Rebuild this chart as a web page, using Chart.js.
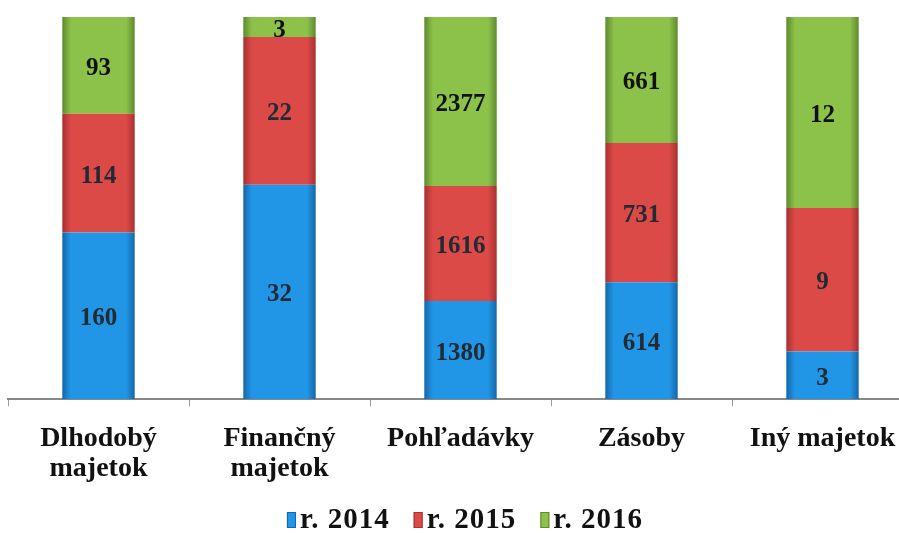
<!DOCTYPE html>
<html>
<head>
    <meta charset="utf-8">
    <style>
        body { margin: 0; overflow: hidden; background: #fff; }
        #chart { width: 925px; height: 533px; }
    </style>
    <script src="https://cdn.jsdelivr.net/npm/chart.js"></script>
</head>
<body>
    <div id="chart"><canvas id="c"></canvas></div>
    <script>
        // categories and values
        const categories = [['Dlhodobý', 'majetok'], ['Finančný', 'majetok'], 'Pohľadávky', 'Zásoby', 'Iný majetok'];
        const seriesNames = ['r. 2014', 'r. 2015', 'r. 2016'];
        const values2014 = [160, 32, 1380, 614, 3];
        const values2015 = [114, 22, 1616, 731, 9];
        const values2016 = [93, 3, 2377, 661, 12];

        const rawSeries = [values2014, values2015, values2016];
        const totals = categories.map((_, i) => rawSeries.reduce((s, arr) => s + arr[i], 0));

        // edge / middle colours for each series (bars look slightly rounded)
        const palette = [
            { edge: '#1467a8', mid: '#2196e6' },
            { edge: '#a8302f', mid: '#dc4a48' },
            { edge: '#5f8a2e', mid: '#8cc24a' }
        ];
        const serif = '"Liberation Serif", serif';

        function barFill(ctx, p) {
            const chart = ctx.chart;
            const xs = chart.scales.x;
            if (!xs || !chart.chartArea || ctx.dataIndex === undefined) return p.mid;
            const cx = xs.getPixelForValue(ctx.dataIndex);
            const half = (xs.width / categories.length) * 0.4 / 2;
            const g = chart.ctx.createLinearGradient(cx - half, 0, cx + half, 0);
            g.addColorStop(0, p.edge);
            g.addColorStop(0.12, p.mid);
            g.addColorStop(0.88, p.mid);
            g.addColorStop(1, p.edge);
            return g;
        }

        // draw the raw values in the middle of each segment
        const valueLabels = {
            id: 'valueLabels',
            afterDatasetsDraw(chart) {
                const ctx = chart.ctx;
                ctx.save();
                ctx.font = 'bold 25px ' + serif;
                ctx.textAlign = 'center';
                ctx.textBaseline = 'middle';
                chart.data.datasets.forEach((ds, di) => {
                    const meta = chart.getDatasetMeta(di);
                    meta.data.forEach((bar, i) => {
                        ctx.fillStyle = di === 2 ? '#111' : '#222a33';
                        ctx.fillText(String(rawSeries[di][i]), bar.x, (bar.y + bar.base) / 2 + 3);
                    });
                });
                ctx.restore();
            }
        };

        // legend drawn by hand: small tall boxes close to the text
        const bottomLegend = {
            id: 'bottomLegend',
            afterDraw(chart) {
                const ctx = chart.ctx;
                ctx.save();
                ctx.font = 'bold 29px ' + serif;
                ctx.letterSpacing = '1px';
                ctx.textBaseline = 'middle';
                const boxW = 9, boxH = 16, gap = 4, itemGap = 24;
                const widths = seriesNames.map(n => boxW + gap + ctx.measureText(n).width);
                const total = widths.reduce((a, b) => a + b, 0) + itemGap * (widths.length - 1);
                let x = 465 - total / 2;
                const y = 520;
                seriesNames.forEach((n, i) => {
                    ctx.fillStyle = palette[i].mid;
                    ctx.fillRect(x, y - boxH / 2, boxW, boxH);
                    ctx.strokeStyle = palette[i].edge;
                    ctx.lineWidth = 1;
                    ctx.strokeRect(x + 0.5, y - boxH / 2 + 0.5, boxW - 1, boxH - 1);
                    ctx.fillStyle = '#111';
                    ctx.fillText(n, x + boxW + gap, y + 1);
                    x += widths[i] + itemGap;
                });
                ctx.restore();
            }
        };

        const datasets = rawSeries.map((arr, di) => ({
            label: seriesNames[di],
            data: arr.map((v, i) => v / totals[i] * 100),
            backgroundColor: ctx => barFill(ctx, palette[di]),
            borderWidth: 0,
            barPercentage: 0.4,
            categoryPercentage: 1.0
        }));

        new Chart(document.getElementById('c'), {
            type: 'bar',
            data: { labels: categories, datasets: datasets },
            plugins: [valueLabels, bottomLegend],
            options: {
                responsive: true,
                maintainAspectRatio: false,
                animation: false,
                layout: { padding: { left: 8, right: 12, top: 17, bottom: 32 } },
                scales: {
                    x: {
                        stacked: true,
                        grid: { drawOnChartArea: false, drawTicks: true, tickLength: 7, color: '#999', offset: true },
                        border: { color: '#888', width: 2 },
                        ticks: {
                            color: '#111',
                            padding: 18,
                            font: { family: serif, size: 28, weight: 'bold', lineHeight: 1.05 }
                        }
                    },
                    y: { stacked: true, display: false, min: 0, max: 100 }
                },
                plugins: {
                    tooltip: { enabled: false },
                    legend: { display: false }
                }
            }
        });
    </script>
</body>
</html>
